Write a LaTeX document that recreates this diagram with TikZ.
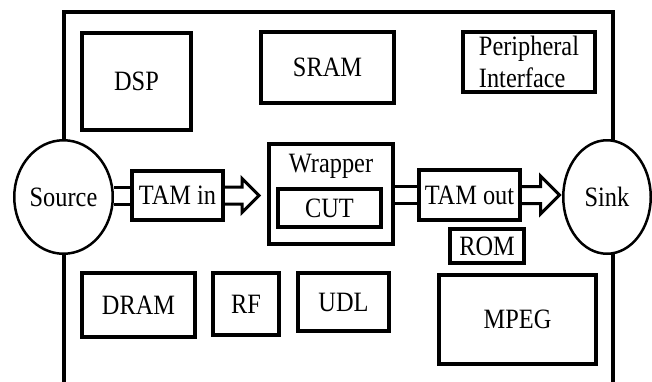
\documentclass[tikz,border=0pt]{standalone}
\usepackage{fontspec}
\setmainfont{Liberation Serif}[FakeStretch=0.87]
\usetikzlibrary{shapes.geometric,calc,backgrounds}
\tikzset{
  lbl/.style={font=\fontsize{28}{32}\selectfont},
  blk/.style={draw,line width=4pt,inner sep=2pt,align=center,lbl},
  port/.style={ellipse,draw,fill=white,line width=2.5pt,inner sep=0pt,lbl},
  frame/.style={line width=4pt},
  bus/.style={double,double distance=14pt,line width=3pt},
  pipe/.style={line width=3pt},
}
\begin{document}
\begin{tikzpicture}[x=1pt,y=-1pt]
  \useasboundingbox (0,0) rectangle (652,381);
  % chip outline, open at the bottom
  \draw[frame] (64,395) -- (64,12) -- (613,12) -- (613,395);
  % cores
  \foreach \n/\t/\x/\y/\w/\h in {
    dsp/DSP/136.5/81.5/109pt/97pt,
    sram/SRAM/327.5/67.5/133pt/71pt,
    dram/DRAM/138.5/305/113pt/64pt,
    rf/RF/246/304/66pt/62pt,
    udl/UDL/343.5/302/91pt/58pt,
    mpeg/MPEG/517.5/319.5/157pt/89pt,
    rom/ROM/487/246/74pt/34pt,
    tin/TAM in/177.5/195.5/91pt/49pt,
    tout/TAM out/469.5/195/101pt/50pt,
    cut/CUT/329.5/208/103pt/38pt}
    \node[blk,minimum width=\w,minimum height=\h] (\n) at (\x,\y) {\t};
  \node[blk,align=left,minimum width=132pt,minimum height=60pt] (per) at (529,62) {Peripheral\\Interface};
  \node[blk,minimum width=124pt,minimum height=100pt] (wrap) at (331,194) {};
  \node[lbl,anchor=base] (wraplbl) at (331,172) {Wrapper};
  % test source and sink
  \node[port,minimum width=98.5pt,minimum height=113.5pt] (src) at (63.5,197) {Source};
  \node[port,minimum width=87.5pt,minimum height=113.5pt] (sink) at (607,197) {Sink};
  % test access mechanism
  \begin{scope}[on background layer]
    \draw[bus] (tin.west -| src.east) -- (tin.west);
    \draw[bus] (wrap.east |- tout.west) -- (tout.west);
  \end{scope}
  \draw[pipe] let \p1=(tin.east), \p2=(wrap.west) in
    (\x1,\y1+8.5pt) -- (\x2-25pt,\y1+8.5pt) -- (\x2-25pt,\y1+17pt) -- (\x2-8pt,\y1)
    -- (\x2-25pt,\y1-17pt) -- (\x2-25pt,\y1-8.5pt) -- (\x1,\y1-8.5pt);
  \draw[pipe] let \p1=(tout.east), \p2=(sink.west) in
    (\x1,\y1+8.5pt) -- (\x2-21.5pt,\y1+8.5pt) -- (\x2-21.5pt,\y1+19pt) -- (\x2-2.5pt,\y1)
    -- (\x2-21.5pt,\y1-19pt) -- (\x2-21.5pt,\y1-8.5pt) -- (\x1,\y1-8.5pt);
\end{tikzpicture}
\end{document}
